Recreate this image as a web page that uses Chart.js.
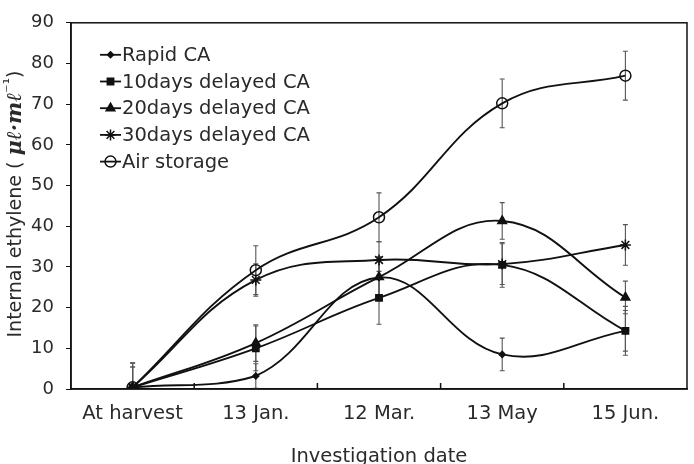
<!DOCTYPE html>
<html><head><meta charset="utf-8">
<script src="https://cdn.jsdelivr.net/npm/chart.js@4.4.0/dist/chart.umd.min.js"></script>
<style>html,body{margin:0;padding:0;background:#fff}#wrap{width:694px;height:464px}</style>
</head><body><div id="wrap"><canvas id="c" width="694" height="464"></canvas></div>
<script>
const categories = ['At harvest', '13 Jan.', '12 Mar.', '13 May', '15 Jun.'];
const seriesNames = ['Rapid CA', '10days delayed CA', '20days delayed CA', '30days delayed CA', 'Air storage'];
const rapidCA    = [0.4, 3.2, 27.4, 8.5, 14.3];
const delayed10  = [0.4, 10.0, 22.4, 30.5, 14.3];
const delayed20  = [0.4, 11.3, 27.5, 41.3, 22.5];
const delayed30  = [0.4, 26.8, 31.7, 30.7, 35.4];
const airStorage = [0.4, 29.2, 42.2, 70.2, 77.0];
const rapidErr   = [6, 3, 5, 4, 5];
const delayed10Err = [6, 5.5, 6.5, 5.5, 6];
const delayed20Err = [5, 4.5, 5, 4.5, 4];
const delayed30Err = [5, 4, 4.5, 5, 5];
const airErr     = [6, 6, 6, 6, 6];
const yMin = 0, yMax = 90, yStep = 10;
const xTitle = 'Investigation date';
const yTitleParts = ['Internal ethylene ( ', 'μℓ·mℓ', '⁻¹', ')'];

const values = [rapidCA, delayed10, delayed20, delayed30, airStorage];
const errors = [rapidErr, delayed10Err, delayed20Err, delayed30Err, airErr];
const styles = [
  {pointStyle: 'rectRot', radius: 3},
  {pointStyle: 'rect', radius: 4.5},
  {pointStyle: 'triangle', radius: 5},
  {pointStyle: 'star', radius: 5.5},
  {pointStyle: 'circle', radius: 5.5, fill: 'rgba(0,0,0,0)'}
];
const INK = '#111';
const TXT = '#2a2a2a';

const datasets = seriesNames.map((name, i) => ({
  label: name,
  data: values[i],
  errors: errors[i],
  borderColor: INK,
  borderWidth: 1.9,
  tension: 0.4,
  fill: false,
  pointStyle: styles[i].pointStyle,
  pointRadius: styles[i].radius,
  pointBackgroundColor: styles[i].fill || INK,
  pointBorderColor: INK,
  pointBorderWidth: 1.5
}));

const errorBars = {
  id: 'errorBars',
  beforeDatasetsDraw(chart) {
    const ctx = chart.ctx, xs = chart.scales.x, ys = chart.scales.y;
    ctx.save();
    ctx.strokeStyle = '#555';
    ctx.lineWidth = 1.1;
    chart.data.datasets.forEach(ds => {
      ds.data.forEach((v, j) => {
        const e = ds.errors[j];
        const x = xs.getPixelForValue(j);
        const y1 = ys.getPixelForValue(Math.max(yMin, v - e));
        const y2 = ys.getPixelForValue(v + e);
        ctx.beginPath();
        ctx.moveTo(x, y1); ctx.lineTo(x, y2);
        ctx.moveTo(x - 2.5, y2); ctx.lineTo(x + 2.5, y2);
        if (v - e > yMin) { ctx.moveTo(x - 2.5, y1); ctx.lineTo(x + 2.5, y1); }
        ctx.stroke();
      });
    });
    ctx.restore();
  }
};

const frame = {
  id: 'frame',
  afterDraw(chart) {
    const ctx = chart.ctx, a = chart.chartArea, xs = chart.scales.x;
    ctx.save();
    ctx.strokeStyle = INK;
    ctx.lineWidth = 1.5;
    ctx.strokeRect(a.left, a.top, a.right - a.left, a.bottom - a.top);
    ctx.beginPath();
    for (let j = 0; j < categories.length - 1; j++) {
      const x = (xs.getPixelForValue(j) + xs.getPixelForValue(j + 1)) / 2;
      ctx.moveTo(x, a.bottom); ctx.lineTo(x, a.bottom - 6);
    }
    ctx.stroke();
    // legend
    ctx.font = '19.5px "DejaVu Sans"';
    ctx.textBaseline = 'middle';
    ctx.textAlign = 'left';
    chart.data.datasets.forEach((ds, i) => {
      const y = a.top + 32 + i * 26.7;
      const x0 = a.left + 29;
      ctx.strokeStyle = INK; ctx.lineWidth = 1.8;
      ctx.beginPath(); ctx.moveTo(x0, y); ctx.lineTo(x0 + 21, y); ctx.stroke();
      ctx.fillStyle = ds.pointBackgroundColor; ctx.strokeStyle = INK; ctx.lineWidth = 1.5;
      Chart.helpers.drawPoint(ctx, {pointStyle: ds.pointStyle, radius: ds.pointRadius, rotation: 0, borderWidth: 1.5}, x0 + 10.5, y);
      ctx.fillStyle = TXT;
      ctx.fillText(ds.label, x0 + 22, y + 1);
    });
    // y title with mixed fonts
    const fonts = ['19px "DejaVu Sans"', 'bold italic 21px "DejaVu Serif"', '16px "DejaVu Sans"', '19px "DejaVu Sans"'];
    const widths = yTitleParts.map((t, k) => { ctx.font = fonts[k]; return ctx.measureText(t).width; });
    const total = widths.reduce((s, w) => s + w, 0);
    ctx.translate(15, 204);
    ctx.rotate(-Math.PI / 2);
    ctx.fillStyle = TXT;
    ctx.textBaseline = 'middle';
    let cx = -total / 2;
    yTitleParts.forEach((t, k) => {
      ctx.font = fonts[k];
      ctx.fillText(t, cx, k === 2 ? -5 : 1);
      cx += widths[k];
    });
    ctx.restore();
  }
};

new Chart(document.getElementById('c'), {
  type: 'line',
  data: { labels: categories, datasets },
  plugins: [errorBars, frame],
  options: {
    responsive: false,
    animation: false,
    devicePixelRatio: 1,
    layout: { padding: { top: 13, right: 6, left: 0, bottom: 0 } },
    plugins: { legend: { display: false }, tooltip: { enabled: false } },
    scales: {
      x: {
        type: 'category',
        offset: true,
        afterFit(s) { s.height = 75; },
        grid: { display: true, drawOnChartArea: false, drawTicks: false, offset: true },
        border: { display: true, color: INK, width: 1.5 },
        ticks: { color: TXT, padding: 13, font: { family: 'DejaVu Sans', size: 19.5 }, maxRotation: 0 },
        title: { display: true, text: xTitle, color: TXT, font: { family: 'DejaVu Sans', size: 19.5 }, padding: { top: 0, bottom: -5 } }
      },
      y: {
        min: yMin, max: yMax,
        afterFit(s) { s.width = 71; },
        grid: { display: true, drawOnChartArea: false, drawTicks: true, tickLength: 5, color: INK, lineWidth: 1 },
        border: { display: true, color: INK, width: 1.5 },
        ticks: { stepSize: yStep, color: TXT, padding: 12, font: { family: 'DejaVu Sans', size: 18 } },
        title: { display: false }
      }
    }
  }
});
</script></body></html>
